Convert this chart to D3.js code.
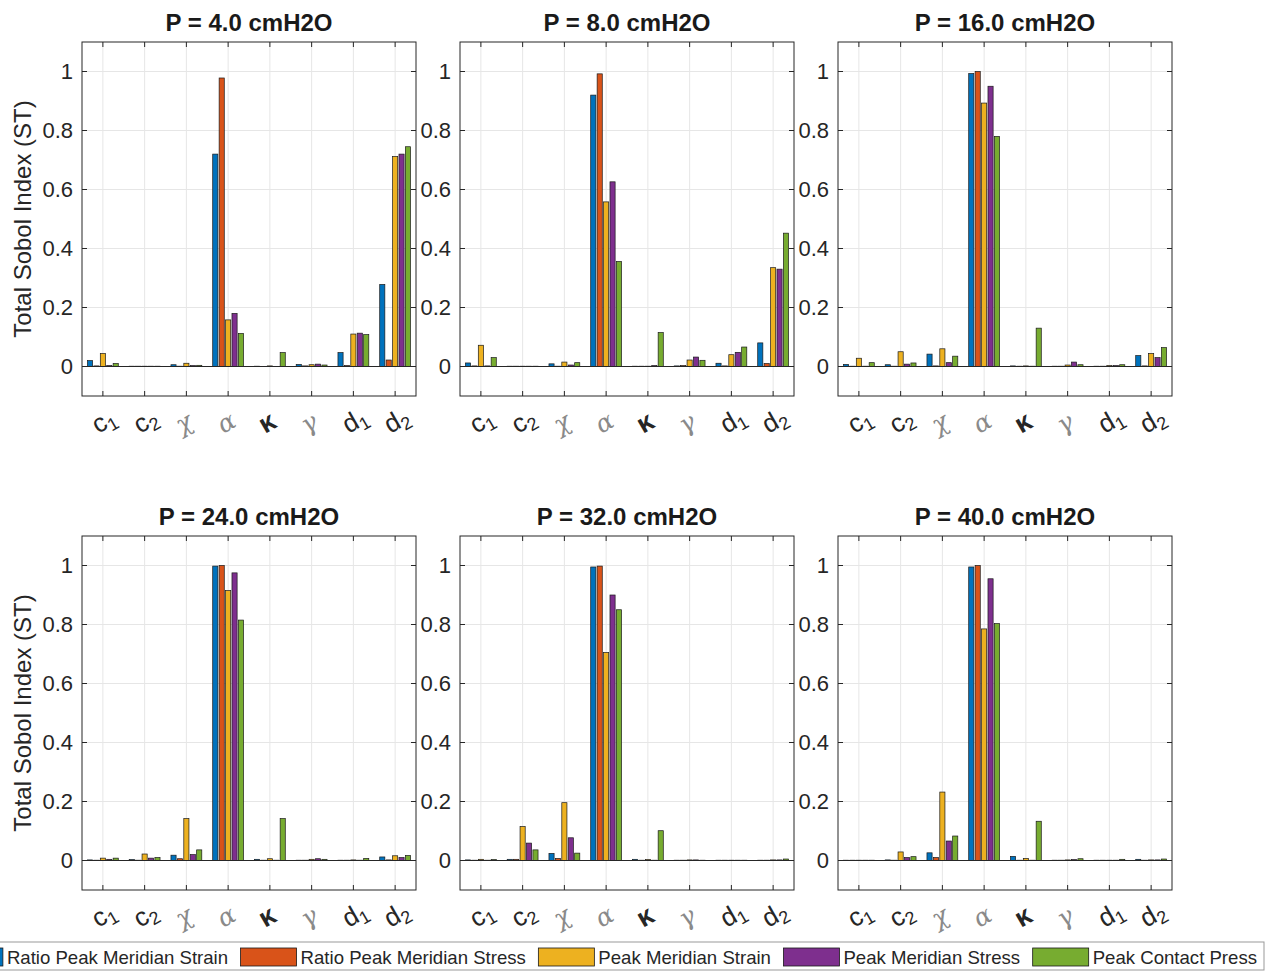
<!doctype html>
<html>
<head>
<meta charset="utf-8">
<title>Total Sobol Index</title>
<script src="https://d3js.org/d3.v7.min.js"></script>
<style>
  html, body { margin: 0; background: #fff; }
  svg { display: block; font-family: "Liberation Sans", Arial, Helvetica, sans-serif; }
</style>
</head>
<body>
<script>
// pressures for each panel
var pressures = [4.0, 8.0, 16.0, 24.0, 32.0, 40.0];
var params = ['c1', 'c2', 'chi', 'alpha', 'kappa', 'gamma', 'd1', 'd2'];
var seriesNames = ['Ratio Peak Meridian Strain', 'Ratio Peak Meridian Stress',
                   'Peak Meridian Strain', 'Peak Meridian Stress', 'Peak Contact Press'];
var colors = ['#0072BD', '#D95319', '#EDB120', '#7E2F8E', '#77AC30'];
var yTicks = [0, 0.2, 0.4, 0.6, 0.8, 1];

// ST values, rows = params, columns = series
var st4 = [
  [0.020, 0.002, 0.044, 0.003, 0.010],
  [0.001, 0.001, 0.001, 0.001, 0.001],
  [0.006, 0.001, 0.011, 0.003, 0.004],
  [0.720, 0.978, 0.158, 0.180, 0.112],
  [0.001, 0.000, 0.002, 0.000, 0.047],
  [0.007, 0.002, 0.006, 0.008, 0.005],
  [0.047, 0.003, 0.110, 0.113, 0.108],
  [0.278, 0.022, 0.712, 0.720, 0.745]
];
var st8 = [
  [0.012, 0.002, 0.072, 0.002, 0.030],
  [0.001, 0.001, 0.001, 0.001, 0.001],
  [0.009, 0.001, 0.015, 0.005, 0.013],
  [0.920, 0.992, 0.558, 0.626, 0.356],
  [0.001, 0.001, 0.001, 0.003, 0.115],
  [0.002, 0.003, 0.022, 0.032, 0.021],
  [0.011, 0.002, 0.040, 0.048, 0.066],
  [0.080, 0.010, 0.335, 0.330, 0.452]
];
var st16 = [
  [0.007, 0.001, 0.028, 0.001, 0.013],
  [0.006, 0.001, 0.050, 0.008, 0.012],
  [0.042, 0.002, 0.060, 0.013, 0.035],
  [0.993, 1.000, 0.893, 0.950, 0.780],
  [0.002, 0.001, 0.002, 0.001, 0.130],
  [0.001, 0.001, 0.005, 0.015, 0.006],
  [0.001, 0.001, 0.003, 0.003, 0.006],
  [0.037, 0.002, 0.044, 0.030, 0.064]
];
var st24 = [
  [0.002, 0.001, 0.008, 0.004, 0.008],
  [0.003, 0.001, 0.022, 0.008, 0.010],
  [0.018, 0.006, 0.142, 0.020, 0.036],
  [0.998, 1.000, 0.915, 0.975, 0.815],
  [0.004, 0.001, 0.006, 0.001, 0.142],
  [0.001, 0.001, 0.004, 0.006, 0.004],
  [0.001, 0.001, 0.002, 0.001, 0.007],
  [0.012, 0.002, 0.016, 0.010, 0.017]
];
var st32 = [
  [0.002, 0.001, 0.004, 0.001, 0.003],
  [0.004, 0.004, 0.115, 0.059, 0.036],
  [0.024, 0.007, 0.196, 0.077, 0.025],
  [0.995, 0.998, 0.705, 0.900, 0.850],
  [0.004, 0.001, 0.003, 0.001, 0.101],
  [0.001, 0.001, 0.002, 0.002, 0.001],
  [0.001, 0.001, 0.001, 0.001, 0.001],
  [0.001, 0.001, 0.002, 0.002, 0.005]
];
var st40 = [
  [0.001, 0.001, 0.001, 0.001, 0.001],
  [0.002, 0.001, 0.029, 0.010, 0.013],
  [0.026, 0.010, 0.232, 0.066, 0.083],
  [0.995, 1.000, 0.785, 0.955, 0.803],
  [0.014, 0.001, 0.007, 0.001, 0.133],
  [0.001, 0.001, 0.002, 0.003, 0.006],
  [0.001, 0.001, 0.001, 0.001, 0.004],
  [0.004, 0.001, 0.002, 0.002, 0.005]
];
var panelData = [st4, st8, st16, st24, st32, st40];

var svg = d3.select('body').append('svg').attr('width', 1269).attr('height', 972);

var lefts = [82, 460, 838], tops = [42, 536];
var W = 334, H = 354;

var x = d3.scaleBand().domain(params).range([0, W]).padding(0);
// MATLAB grouped bar: group width = n/(n+1.5)
var gw = x.bandwidth() * seriesNames.length / (seriesNames.length + 1.5);
var x1 = d3.scaleBand().domain(d3.range(seriesNames.length))
  .range([-gw / 2, gw / 2]).paddingInner(0.2).paddingOuter(0.1);
var y = d3.scaleLinear().domain([-0.1, 1.1]).range([H, 0]);

function tickLabel(sel, p) {
  var base = {c1: 'c', c2: 'c', d1: 'd', d2: 'd'};
  if (base[p]) {
    sel.append('tspan').attr('font-size', 26).text(base[p]);
    sel.append('tspan').attr('font-size', 18).attr('dy', 5).text(p.slice(1));
  } else if (p === 'kappa') {
    sel.append('tspan').attr('font-size', 27).attr('font-weight', 'bold').text('κ');
  } else {
    var g = {chi: 'χ', alpha: 'α', gamma: 'γ'}[p];
    sel.append('tspan').attr('font-size', 25).attr('font-family', 'DejaVu Serif')
      .attr('font-style', 'italic').attr('fill', '#8a8a8a').text(g);
  }
}

panelData.forEach(function(data, k) {
  var g = svg.append('g')
    .attr('transform', 'translate(' + lefts[k % 3] + ',' + tops[Math.floor(k / 3)] + ')');

  // grid
  g.selectAll('.gy').data(yTicks).join('line')
    .attr('x1', 0).attr('x2', W).attr('y1', d => y(d)).attr('y2', d => y(d))
    .attr('stroke', '#e6e6e6').attr('stroke-width', 1);
  g.selectAll('.gx').data(params).join('line')
    .attr('x1', d => x(d) + x.bandwidth() / 2).attr('x2', d => x(d) + x.bandwidth() / 2)
    .attr('y1', 0).attr('y2', H)
    .attr('stroke', '#e6e6e6').attr('stroke-width', 1);

  // bars
  var groups = g.selectAll('.grp').data(data).join('g')
    .attr('transform', (d, i) => 'translate(' + (x(params[i]) + x.bandwidth() / 2) + ',0)');
  groups.selectAll('rect').data(d => d).join('rect')
    .attr('x', (d, j) => x1(j))
    .attr('width', x1.bandwidth())
    .attr('y', d => y(d))
    .attr('height', d => y(0) - y(d))
    .attr('fill', (d, j) => colors[j])
    .attr('stroke', '#1a1a1a').attr('stroke-width', 0.7);

  // baseline
  g.append('line').attr('x1', 0).attr('x2', W).attr('y1', y(0)).attr('y2', y(0))
    .attr('stroke', '#262626').attr('stroke-width', 1);

  // ticks (inside, all four sides)
  var tl = 5;
  yTicks.forEach(function(t) {
    g.append('line').attr('x1', 0).attr('x2', tl).attr('y1', y(t)).attr('y2', y(t)).attr('stroke', '#262626');
    g.append('line').attr('x1', W - tl).attr('x2', W).attr('y1', y(t)).attr('y2', y(t)).attr('stroke', '#262626');
  });
  params.forEach(function(p) {
    var cx = x(p) + x.bandwidth() / 2;
    g.append('line').attr('x1', cx).attr('x2', cx).attr('y1', H).attr('y2', H - tl).attr('stroke', '#262626');
    g.append('line').attr('x1', cx).attr('x2', cx).attr('y1', 0).attr('y2', tl).attr('stroke', '#262626');
  });

  // box
  g.append('rect').attr('x', 0).attr('y', 0).attr('width', W).attr('height', H)
    .attr('fill', 'none').attr('stroke', '#262626').attr('stroke-width', 1);

  // y tick labels
  g.selectAll('.yl').data(yTicks).join('text')
    .attr('x', -9).attr('y', d => y(d)).attr('dy', '0.35em')
    .attr('text-anchor', 'end').attr('font-size', 22).attr('fill', '#262626')
    .text(d => d3.format('~g')(d));

  // x tick labels, rotated
  params.forEach(function(p) {
    var cx = x(p) + x.bandwidth() / 2;
    var t = g.append('text')
      .attr('transform', 'translate(' + (cx - 5) + ',' + (H + 38) + ') rotate(-30)')
      .attr('fill', '#262626');
    tickLabel(t, p);
  });

  // title
  g.append('text').attr('x', W / 2).attr('y', -11).attr('text-anchor', 'middle')
    .attr('font-size', 24).attr('font-weight', 'bold').attr('fill', '#1a1a1a')
    .text('P = ' + pressures[k].toFixed(1) + ' cmH2O');

  if (k % 3 === 0) {
    g.append('text')
      .attr('transform', 'translate(' + (31 - lefts[0]) + ',' + (H / 2) + ') rotate(-90)')
      .attr('text-anchor', 'middle').attr('font-size', 24).attr('fill', '#262626')
      .text('Total Sobol Index (ST)');
  }
});

// legend
var leg = svg.append('g');
var legFont = 18.6, swW = 56, swH = 18, legY = 957;
var items = [];
var cursor = 0;
seriesNames.forEach(function(name, i) {
  var it = leg.append('g');
  it.append('rect').attr('x', 0).attr('y', -swH / 2).attr('width', swW).attr('height', swH)
    .attr('fill', colors[i]).attr('stroke', '#1a1a1a').attr('stroke-width', 0.8);
  var tx = it.append('text').attr('x', swW + 4).attr('y', 0).attr('dy', '0.35em')
    .attr('font-size', legFont).attr('fill', '#262626').text(name);
  var w = tx.node().getComputedTextLength();
  items.push({g: it, x: cursor});
  cursor += swW + 4 + w + 12.5;
});
var totalW = cursor - 12.5;
var startX = 1257 - totalW;
items.forEach(function(d) { d.g.attr('transform', 'translate(' + (startX + d.x) + ',' + legY + ')'); });
leg.insert('rect', ':first-child')
  .attr('x', startX - 8).attr('y', 942).attr('width', 1264 - startX + 8).attr('height', 28)
  .attr('fill', '#fff').attr('stroke', '#999').attr('stroke-width', 1);
</script>
</body>
</html>
